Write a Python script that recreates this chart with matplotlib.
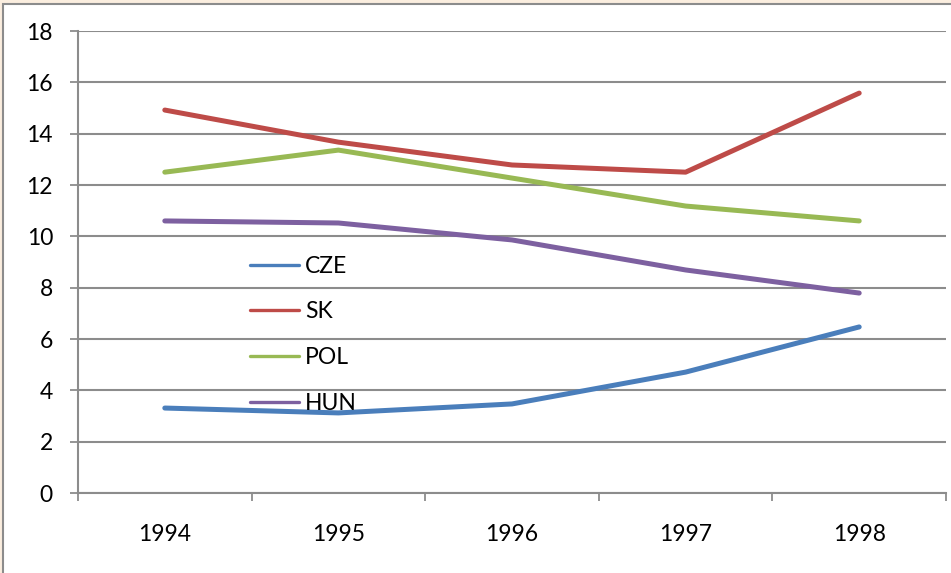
import matplotlib
matplotlib.use("Agg")
import matplotlib.pyplot as plt
from matplotlib.patches import Rectangle

years = ["1994", "1995", "1996", "1997", "1998"]
cze = [3.31, 3.12, 3.47, 4.71, 6.47]
sk = [14.92, 13.67, 12.78, 12.50, 15.58]
pol = [12.50, 13.36, 12.27, 11.18, 10.60]
hun = [10.60, 10.52, 9.86, 8.69, 7.79]

series = [("CZE", cze, "#4A7EBB"), ("SK", sk, "#BE4B48"),
          ("POL", pol, "#98B954"), ("HUN", hun, "#7D60A0")]

plt.rcParams['font.family'] = ['Lato', 'DejaVu Sans']
FS = 16.5

fig = plt.figure(figsize=(9.51, 5.73), dpi=100)
fig.patch.set_facecolor("#FBEEDF")
border = Rectangle((3/951, -0.01), 1.0, 1 - 4/573 + 0.01, transform=fig.transFigure,
                   facecolor="white", edgecolor="#8C8C8C", linewidth=1.5, zorder=-10)
fig.add_artist(border)

ax = fig.add_axes([78/951, 80/573, 868/951, 462/573])
ax.set_zorder(5)
ax.set_facecolor("none")
x = [i + 0.5 for i in range(len(years))]
for name, vals, col in series:
    ax.plot(x, vals, color=col, linewidth=3.6, label=name, solid_capstyle="round", zorder=3)

ax.set_xlim(0, len(years))
ax.set_ylim(0, 18)
ax.set_yticks(range(0, 19, 2))
ax.set_xticks(range(0, len(years) + 1), minor=False)
ax.set_xticklabels([])
ax.set_xticks(x, minor=True)
ax.set_xticklabels(years, minor=True)
ax.tick_params(axis="x", which="minor", length=0, pad=22.5, labelsize=FS)
ax.tick_params(axis="x", which="major", length=6, width=1.3, color="#8C8C8C", direction="out")
ax.tick_params(axis="y", length=6, width=1.3, color="#8C8C8C", direction="out", pad=12, labelsize=FS)

ax.grid(axis="y", color="#8C8C8C", linewidth=1.5, zorder=1)
for s in ["top", "right"]:
    ax.spines[s].set_visible(False)
for s in ["left", "bottom"]:
    ax.spines[s].set_color("#8C8C8C")
    ax.spines[s].set_linewidth(1.5)

leg = ax.legend(loc="upper left", bbox_to_anchor=(0.198, 0.514), frameon=False,
                handlelength=2.14, handletextpad=0.26, labelspacing=1.08, fontsize=FS,
                borderaxespad=0, borderpad=0)
for ln in leg.get_lines():
    ln.set_linewidth(2.4)

fig.savefig("out.png", dpi=100, facecolor=fig.get_facecolor())
